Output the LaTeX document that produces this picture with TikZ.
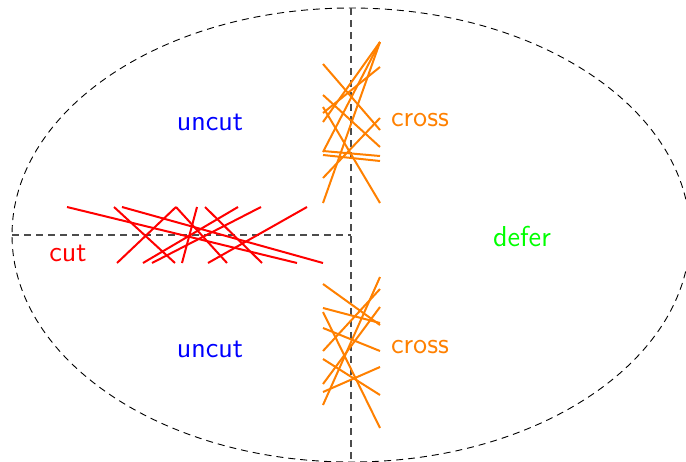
\documentclass[tikz,border=0pt]{standalone}
\usepackage{tikz}
\definecolor{cutred}{RGB}{255,0,0}
\definecolor{crossorange}{RGB}{255,128,0}
\definecolor{defergreen}{RGB}{0,255,0}
\definecolor{uncutblue}{RGB}{0,0,255}
\tikzset{
  seg/.style={line width=1pt},
  boundary/.style={dash pattern=on 3.5pt off 2.5pt, line width=0.45pt, black},
  split/.style={dash pattern=on 3.5pt off 2.5pt, line width=0.7pt, black!70},
  lbl/.style={font=\sffamily\Large}
}
\begin{document}
\begin{tikzpicture}[x=0.5pt,y=-0.5pt]
  \useasboundingbox (0,0) rectangle (686,461);

  % Region boundary and splitting lines
  \draw[boundary] (351,235) ellipse [x radius=169.5pt, y radius=113.5pt];
  \coordinate (top) at (351,8);
  \coordinate (bottom) at (351,462);
  \coordinate (left) at (12,235);
  \coordinate (centre) at (351,235);
  \draw[split] (top) -- (bottom);
  \draw[split] (left) -- (centre);

  % Segments cut by the horizontal line
  \foreach \xa/\ya/\xb/\yb in {67/207/297/263, 122/207/323/263, 114/207/175/263,
      176/207/117/263, 176/207/227/263, 197/207/182/263, 205/207/262/263,
      238/207/143/263, 261/207/152/263, 307/207/208/263}
    \draw[seg, cutred] (\xa,\ya) -- (\xb,\yb);

  % Segments crossing the vertical line (upper half)
  \foreach \ya/\yb in {64/130, 95/147, 107/203, 113/67, 122/42, 152/42,
      151/156, 155/161, 178/118, 203/42}
    \draw[seg, crossorange] (323,\ya) -- (380,\yb);

  % Segments crossing the vertical line (lower half)
  \foreach \ya/\yb in {284/325, 308/323, 312/428, 328/351, 351/289,
      359/395, 384/307, 392/367, 405/277}
    \draw[seg, crossorange] (323,\ya) -- (380,\yb);

  % Labels
  \node[lbl, text=uncutblue] (uncutA) at (210,122) {uncut};
  \node[lbl, text=uncutblue] (uncutB) at (210,349) {uncut};
  \node[lbl, text=crossorange] (crossA) at (420,120) {cross};
  \node[lbl, text=crossorange] (crossB) at (420,347) {cross};
  \node[lbl, text=defergreen] (defer) at (522,237) {defer};
  \node[lbl, text=cutred] (cut) at (68,253) {cut};
\end{tikzpicture}
\end{document}
